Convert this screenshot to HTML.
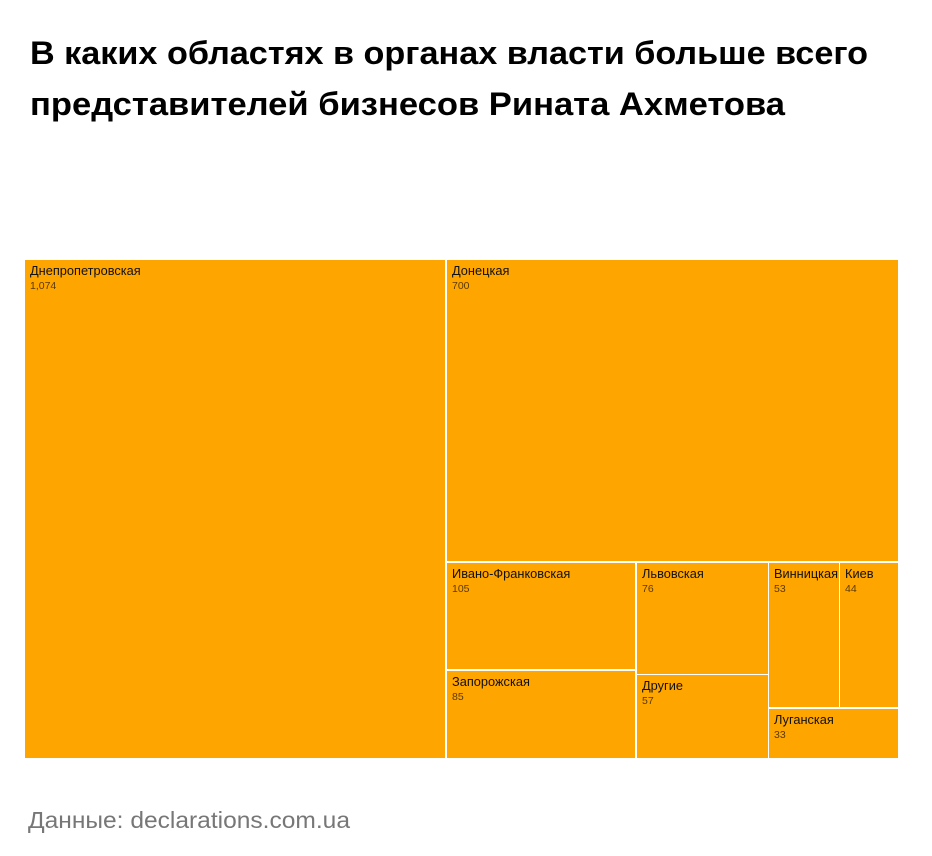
<!DOCTYPE html>
<html><head><meta charset="utf-8"><style>
body{margin:0;background:#fff;width:932px;height:856px;overflow:hidden}
svg{display:block}
.l{font-family:"Liberation Sans",Arial,sans-serif;font-size:12.8px;fill:#111}
.n{font-family:"Liberation Sans",Arial,sans-serif;font-size:10.5px;fill:#5a3a00}
</style></head><body>
<svg width="932" height="856" xmlns="http://www.w3.org/2000/svg">
<text x="30" y="64" font-family="Liberation Sans, sans-serif" font-weight="bold" font-size="32" fill="#000" textLength="838" lengthAdjust="spacingAndGlyphs">В каких областях в органах власти больше всего</text>
<text x="30" y="115" font-family="Liberation Sans, sans-serif" font-weight="bold" font-size="32" fill="#000" textLength="755" lengthAdjust="spacingAndGlyphs">представителей бизнесов Рината Ахметова</text>
<g fill="#ffa500">
<rect x="25" y="260" width="420" height="498"/>
<rect x="447" y="260" width="451" height="301"/>
<rect x="447" y="563" width="188" height="106"/>
<rect x="447" y="671" width="188" height="87"/>
<rect x="637" y="563" width="131" height="111"/>
<rect x="637" y="675" width="131" height="83"/>
<rect x="769" y="563" width="70" height="144"/>
<rect x="840" y="563" width="58" height="144"/>
<rect x="769" y="709" width="129" height="49"/>
</g>
<text class="l" x="30" y="275">Днепропетровская</text><text class="n" x="30" y="289">1,074</text>
<text class="l" x="452" y="275">Донецкая</text><text class="n" x="452" y="289">700</text>
<text class="l" x="452" y="578">Ивано-Франковская</text><text class="n" x="452" y="592">105</text>
<text class="l" x="452" y="686">Запорожская</text><text class="n" x="452" y="700">85</text>
<text class="l" x="642" y="578">Львовская</text><text class="n" x="642" y="592">76</text>
<text class="l" x="642" y="690">Другие</text><text class="n" x="642" y="704">57</text>
<text class="l" x="774" y="578" textLength="64" lengthAdjust="spacingAndGlyphs">Винницкая</text><text class="n" x="774" y="592">53</text>
<text class="l" x="845" y="578">Киев</text><text class="n" x="845" y="592">44</text>
<text class="l" x="774" y="724">Луганская</text><text class="n" x="774" y="738">33</text>
<text x="28" y="828" font-family="Liberation Sans, sans-serif" font-size="23" fill="#777" textLength="322" lengthAdjust="spacingAndGlyphs">Данные: declarations.com.ua</text>
</svg>
</body></html>
